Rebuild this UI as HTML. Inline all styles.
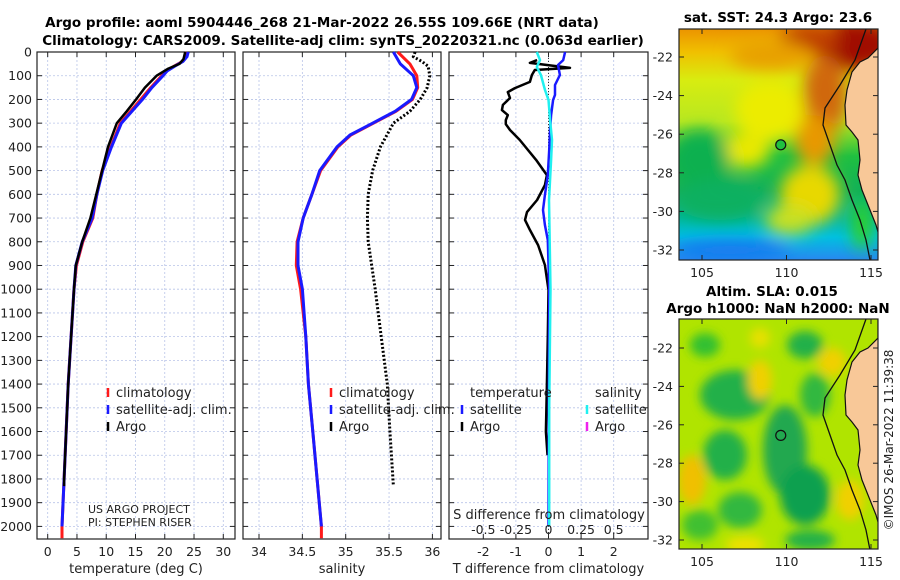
<!DOCTYPE html>
<html><head><meta charset="utf-8"><style>
html,body{margin:0;padding:0;background:#fff;}
svg{display:block;font-family:"DejaVu Sans","Liberation Sans",sans-serif;}
</style></head><body>
<svg id="fig" width="900" height="580" viewBox="0 0 900 580" xmlns="http://www.w3.org/2000/svg">
<defs>
<filter id="blur8" x="-20%" y="-20%" width="140%" height="140%"><feGaussianBlur stdDeviation="8"/></filter>
<filter id="blur5" x="-20%" y="-20%" width="140%" height="140%"><feGaussianBlur stdDeviation="5"/></filter>
<clipPath id="clipTop"><rect x="679" y="29" width="199" height="231"/></clipPath>
<clipPath id="clipBot"><rect x="679" y="319" width="199" height="230"/></clipPath>
<linearGradient id="sstGrad" x1="0" y1="0" x2="0" y2="1">
<stop offset="0" stop-color="#ec9400"/><stop offset="0.1" stop-color="#f0c000"/><stop offset="0.22" stop-color="#d8ec10"/>
<stop offset="0.4" stop-color="#b8e820"/><stop offset="0.55" stop-color="#20c040"/><stop offset="0.7" stop-color="#10b058"/>
<stop offset="0.82" stop-color="#00b8a0"/><stop offset="0.9" stop-color="#00c0e0"/><stop offset="1" stop-color="#2888f0"/></linearGradient>
</defs>
<g id="titles" font-weight="bold" font-size="13.5" text-anchor="middle">
<text x="322" y="27">Argo profile: aoml 5904446_268 21-Mar-2022 26.55S 109.66E (NRT data)</text>
<text x="343" y="45">Climatology: CARS2009. Satellite-adj clim: synTS_20220321.nc (0.063d earlier)</text>
<text x="778" y="22">sat. SST: 24.3 Argo: 23.6</text>
<text x="772" y="296">Altim. SLA: 0.015</text>
<text x="778" y="313">Argo h1000: NaN h2000: NaN</text>
</g>
<g id="panels"></g>
<g id="maps"></g>
<text font-size="12" fill="#222" transform="translate(893,440) rotate(-90)" text-anchor="middle">©IMOS 26-Mar-2022 11:39:38</text>
</svg>
<script>
// ---- data ----
const depthT = [0,20,40,60,80,100,150,200,300,400,500,600,700,800,900,1000,1400,1800,2000];
const tempSat = [24,23.8,23.1,21.7,20.4,19.7,17.8,16.2,12.6,10.9,9.4,8.4,7.6,5.9,4.8,4.5,3.5,2.8,2.45];
const depthClim = [0,20,40,60,80,100,150,200,300,400,500,600,700,800,900,1000,1400,1800,2000,2050];
const tempClim = [23.8,23.6,23,21.6,20.2,19.5,17.6,15.9,12.4,10.8,9.3,8.4,7.7,6.0,4.9,4.5,3.5,2.8,2.45,2.45];
const depthArgo = [0,30,50,70,100,150,200,250,300,400,500,600,700,800,900,1000,1400,1800,1830];
const tempArgo = [23.5,23.2,22.5,20.6,18.6,16.6,15.1,13.5,11.8,10.3,9.3,8.3,7.3,5.9,4.8,4.5,3.5,2.8,2.8];
const depthS = [0,50,100,150,200,250,300,350,400,500,600,700,800,900,1000,1200,1400,1600,1800,2000];
const salSat = [35.55,35.63,35.78,35.82,35.76,35.57,35.31,35.05,34.9,34.7,34.61,34.51,34.45,34.45,34.5,34.54,34.57,34.62,34.67,34.72];
const salClim = [35.6,35.74,35.82,35.83,35.77,35.58,35.32,35.06,34.91,34.71,34.61,34.51,34.44,34.43,34.48,34.54,34.57,34.62,34.67,34.72];
const depthSArgo = [0,20,40,60,100,150,200,250,300,400,500,600,700,800,1000,1200,1400,1600,1830];
const salArgo = [35.8,35.78,35.88,35.95,35.97,35.94,35.86,35.74,35.55,35.4,35.31,35.26,35.25,35.26,35.34,35.41,35.48,35.51,35.55];
const depthDT = [34,46,59,67,76,97,126,152,169,194,223,245,266,287,304,329,371,455,519,561,624,675,708,750,814,898,1003,1200,1400,1600,1700];
const dTArgo = [-0.35,-0.57,0.2,0.66,-0.42,-0.51,-0.57,-1.03,-1.25,-1.18,-1.4,-1.43,-1.25,-1.31,-1.31,-1.18,-0.88,-0.38,-0.05,-0.11,-0.35,-0.66,-0.72,-0.57,-0.32,-0.11,0,-0.02,-0.05,-0.08,-0.03];
const depthDTs = [0,34,55,97,139,181,202,266,329,413,519,603,666,729,793,1000,1500,2000];
const dTSat = [0.51,0.45,0.29,0.35,0.2,0.2,0.14,0.08,0.05,0.02,-0.02,-0.11,-0.17,-0.11,-0.02,0.02,0.01,0];
const depthDS = [0,34,63,97,160,202,287,371,455,624,1000,1500,2000];
const dSSat = [-0.09,-0.065,-0.09,-0.058,-0.027,0,0.012,0.027,0.02,0.004,0.015,0.005,0.005];
const depthTicks = [0,100,200,300,400,500,600,700,800,900,1000,1100,1200,1300,1400,1500,1600,1700,1800,1900,2000];
const tempTicks = [0,5,10,15,20,25,30];
const salTicks = [34,34.5,35,35.5,36];
const salTickLabels = ["34","34.5","35","35.5","36"];
const dTTicks = [-2,-1,0,1,2];
const dSTicks = [-0.5,-0.25,0,0.25,0.5];
const dSTickLabels = ["-0.5","-0.25","0","0.25","0.5"];
const latTicks = [-22,-24,-26,-28,-30,-32];
const lonTicks = [105,110,115];

// ---- axes ----
const NS = "http://www.w3.org/2000/svg";
const yD = d => 52 + d * 0.2372;
const xT = t => 47.7 + t * 5.853;
const xS = s => 259 + (s - 34) * 86.7;
const xDT = v => 548.5 + v * 32.6;
const xDS = v => 548.5 + v * 130.4;
const axTop = 52, axBot = 539;
function mk(tag, attrs, parent){const e=document.createElementNS(NS,tag);for(const k in attrs)e.setAttribute(k,attrs[k]);parent.appendChild(e);return e;}
const P = document.getElementById('panels');

function panel(name, x0, x1, xticks, xfun, xlabels, xtitle){
  const g = mk('g',{},P);
  
  
  xticks.forEach(t=>{const l=mk('line',{x1:xfun(t),x2:xfun(t),y1:axTop,y2:axBot,stroke:'#b8c4e8','stroke-width':0.8,'stroke-dasharray':'2,2'},g);
    
    });
  depthTicks.forEach(d=>{const l=mk('line',{x1:x0,x2:x1,y1:yD(d),y2:yD(d),stroke:'#b8c4e8','stroke-width':0.8,'stroke-dasharray':'2,2'},g);
    
    });
  depthTicks.forEach(d=>{mk('line',{x1:x0,x2:x0+5,y1:yD(d),y2:yD(d),stroke:'#222'},g);mk('line',{x1:x1-5,x2:x1,y1:yD(d),y2:yD(d),stroke:'#222'},g);});
  xticks.forEach((t,i)=>{mk('line',{x1:xfun(t),x2:xfun(t),y1:axBot-5,y2:axBot,stroke:'#222'},g);mk('line',{x1:xfun(t),x2:xfun(t),y1:axTop,y2:axTop+5,stroke:'#222'},g);
    if(xlabels){const tx=mk('text',{x:xfun(t),y:556,'font-size':12.5,'text-anchor':'middle',fill:'#222'},g);tx.textContent=xlabels[i];
      
      }});
  const b=mk('rect',{x:x0,y:axTop,width:x1-x0,height:axBot-axTop,fill:'none',stroke:'#222','stroke-width':1.2},g);
  
  
  const tt=mk('text',{x:(x0+x1)/2,y:573,'font-size':13,'text-anchor':'middle',fill:'#222'},g);tt.textContent=xtitle;
  
  
  return g;
}
function line(g, xs, ds, xfun, color, w, name, dash){
  const pts = xs.map((v,i)=>xfun(v).toFixed(1)+','+yD(ds[i]).toFixed(1)).join(' ');
  const p = mk('polyline',{points:pts,fill:'none',stroke:color,'stroke-width':w,'stroke-linejoin':'round'},g);
  if(dash) p.setAttribute('stroke-dasharray',dash);
  
  
}
function legend(g, x, y, color, label){
  const m=mk('line',{x1:x,x2:x,y1:y-9,y2:y,stroke:color,'stroke-width':2.5},g);
  
  
  const t=mk('text',{x:x+8,y:y,'font-size':13,fill:'#222'},g);t.textContent=label;
  
  
}
function txt(g,x,y,s,size,anchor,name){const t=mk('text',{x:x,y:y,'font-size':size,'text-anchor':anchor||'start',fill:'#222'},g);t.textContent=s;
  
  return t;}

// Panel 1 temperature
const g1 = panel('temperature-panel',37,235,tempTicks,xT,tempTicks.map(String),'temperature (deg C)');
depthTicks.forEach(d=>txt(g1,32,yD(d)+4.5,String(d),12.5,'end','y-tick-label'));
line(g1,tempClim,depthClim,xT,'#ff1a1a',3,'temperature-climatology-line');
line(g1,tempSat,depthT,xT,'#1a1aff',3,'temperature-satellite-line');
line(g1,tempArgo,depthArgo,xT,'#000',2.5,'temperature-argo-line');
legend(g1,108,397,'#ff1a1a','climatology');
legend(g1,108,414,'#1a1aff','satellite-adj. clim.');
legend(g1,108,431,'#000','Argo');
txt(g1,88,513,'US ARGO PROJECT',11,'start','project-label');
txt(g1,88,526,'PI: STEPHEN RISER',11,'start','pi-label');

// Panel 2 salinity
const g2 = panel('salinity-panel',243,441,salTicks,xS,salTickLabels,'salinity');
line(g2,salClim.concat([34.72]),depthS.concat([2050]),xS,'#ff1a1a',3,'salinity-climatology-line');
line(g2,salSat,depthS,xS,'#1a1aff',3,'salinity-satellite-line');
line(g2,salArgo,depthSArgo,xS,'#000',3,'salinity-argo-line','2,2');
legend(g2,331,397,'#ff1a1a','climatology');
legend(g2,331,414,'#1a1aff','satellite-adj. clim.');
legend(g2,331,431,'#000','Argo');

// Panel 3 differences
const g3 = panel('difference-panel',449,648,dTTicks,xDT,dTTicks.map(String),'T difference from climatology');
const z=mk('line',{x1:xDT(0),x2:xDT(0),y1:axTop,y2:axBot,stroke:'#333','stroke-width':1,'stroke-dasharray':'1,2'},g3);


line(g3,dTArgo,depthDT,xDT,'#000',2.5,'t-diff-argo-line');
line(g3,dTSat,depthDTs,xDT,'#1a1aff',2.5,'t-diff-satellite-line');
line(g3,dSSat,depthDS,xDS,'#20f0f0',2.5,'s-diff-satellite-line');
txt(g3,470,397,'temperature',13,'start','legend-temperature-heading');
txt(g3,595,397,'salinity',13,'start','legend-salinity-heading');
legend(g3,462,414,'#1a1aff','satellite');
legend(g3,462,431,'#000','Argo');
legend(g3,587,414,'#20f0f0','satellite');
legend(g3,587,431,'#ee22ee','Argo');
txt(g3,549,519,'S difference from climatology',13,'middle','s-axis-title');
dSTicks.forEach((v,i)=>txt(g3,xDS(v),534,dSTickLabels[i],12.5,'middle','s-tick-label'));

// ---- maps ----
const M = document.getElementById('maps');
const xLon = lon => 702 + (lon-105)*16.9;
const yLatTop = lat => 57 + (-22-lat)*19.3;
const yLatBot = lat => 348 + (-22-lat)*19.2;
const landPts = "878,29 878,48 868,58 860,62 852,72 847,90 845,105 846,125 852,132 858,140 860,160 858,175 862,190 870,210 876,225 878,232";
const coastPts = "866,29 855,60 840,85 825,108 823,125 830,145 837,165 845,180 852,200 860,220 866,240 870,260";
function mapFrame(name, y0, h, yLat, clip, bg){
  const g = mk('g',{},M);
  
  
  const c = mk('g',{'clip-path':'url(#'+clip+')'},g);
  bg(c);
  const off = y0-29;
  const land=mk('polygon',{points:landPts,fill:'#f8c898',transform:'translate(0,'+off+')'},c);
  
  
  mk('polyline',{points:landPts,fill:'none',stroke:'#111','stroke-width':1.2,transform:'translate(0,'+off+')'},c);
  const cl=mk('polyline',{points:coastPts,fill:'none',stroke:'#111','stroke-width':1.3,transform:'translate(0,'+off+')'},c);
  
  
  mk('rect',{x:679,y:y0,width:199,height:h,fill:'none',stroke:'#222','stroke-width':1.2},g);
  latTicks.forEach(l=>{const y=yLat(l);mk('line',{x1:679,x2:684,y1:y,y2:y,stroke:'#222'},g);mk('line',{x1:873,x2:878,y1:y,y2:y,stroke:'#222'},g);
    txt(g,673,y+4.5,String(l),12.5,'end','lat-tick-label');});
  lonTicks.forEach(l=>{const x=xLon(l);mk('line',{x1:x,x2:x,y1:y0+h-5,y2:y0+h,stroke:'#222'},g);mk('line',{x1:x,x2:x,y1:y0,y2:y0+5,stroke:'#222'},g);
    txt(g,x,y0+h+17,String(l),12.5,'middle','lon-tick-label');});
  const pt=mk('circle',{cx:xLon(109.66),cy:yLat(-26.55),r:5,fill:name==='sst-map'?'#20c040':'none',stroke:'#111','stroke-width':1.2},g);
  
  
}
mapFrame('sst-map',29,231,yLatTop,'clipTop',c=>{
  mk('rect',{x:679,y:29,width:199,height:231,fill:'url(#sstGrad)'},c);
  const b=mk('g',{filter:'url(#blur8)'},c);
  [[855,45,40,25,'#a00800'],[810,38,30,14,'#c04000'],[825,95,22,40,'#d06810'],[815,140,20,25,'#e89800'],[770,55,40,15,'#e8a000'],
   [770,110,35,30,'#ecec00'],[745,150,25,18,'#e8e800'],[700,160,30,30,'#10b050'],[720,200,45,20,'#10b060'],
   [810,195,30,30,'#e8d800'],[790,220,25,15,'#c8e020'],[862,225,10,25,'#30d020'],[730,250,60,10,'#1878f0']].forEach(a=>
    mk('ellipse',{cx:a[0],cy:a[1],rx:a[2],ry:a[3],fill:a[4]},b));
});
mapFrame('sla-map',319,230,yLatBot,'clipBot',c=>{
  mk('rect',{x:679,y:319,width:199,height:230,fill:'#b0e400'},c);
  const b=mk('g',{filter:'url(#blur5)'},c);
  [[735,395,35,25,'#20b048'],[725,455,22,25,'#20b048'],[785,450,22,45,'#20a850'],[805,495,25,30,'#10a050'],[740,510,22,18,'#30b840'],
   [805,345,18,14,'#20b048'],[815,395,15,22,'#30b840'],[810,540,25,10,'#20b048'],[705,345,15,12,'#30c030'],[700,525,18,15,'#40c030'],
   [692,480,14,25,'#f0c000'],[760,380,12,20,'#f0d000'],[832,362,14,14,'#f0d000'],[760,338,10,10,'#e8e000'],[850,500,14,20,'#f0d000'],[745,545,20,8,'#f0e000']].forEach(a=>
    mk('ellipse',{cx:a[0],cy:a[1],rx:a[2],ry:a[3],fill:a[4]},b));
});
</script>
</body></html>
